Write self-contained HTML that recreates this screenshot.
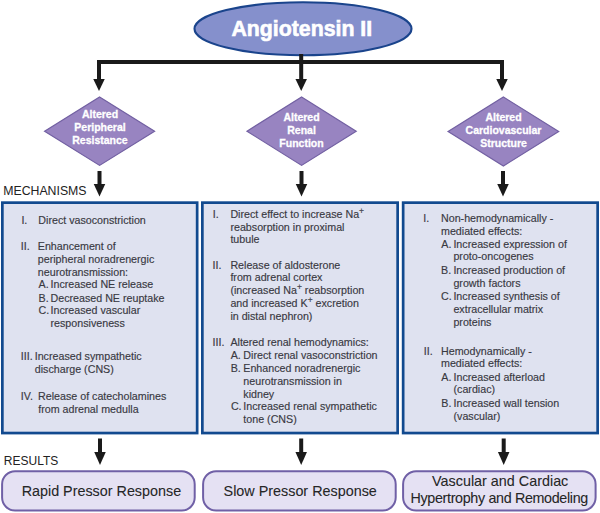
<!DOCTYPE html>
<html><head><meta charset="utf-8"><style>
html,body{margin:0;padding:0;background:#fff;width:600px;height:513px;overflow:hidden}
svg{display:block;font-family:"Liberation Sans",sans-serif}
</style></head><body>
<svg width="600" height="513" viewBox="0 0 600 513">
<ellipse cx="303" cy="28.8" rx="108.5" ry="26.5" fill="#8590cc" stroke="#1a448c" stroke-width="2.1"/>
<text x="301.8" y="36" font-size="21.3" font-weight="bold" fill="#ffffff" stroke="#ffffff" stroke-width="0.6" text-anchor="middle">Angiotensin II</text>
<rect x="97" y="60" width="407" height="4" fill="#1a1a1a"/>
<rect x="97.0" y="60" width="4" height="19.5" fill="#1a1a1a"/><path d="M93.25 79 L104.75 79 L99 91 Z" fill="#1a1a1a"/>
<rect x="299.2" y="54" width="4" height="25.5" fill="#1a1a1a"/><path d="M295.45 79 L306.95 79 L301.2 91 Z" fill="#1a1a1a"/>
<rect x="500.0" y="60" width="4" height="19.5" fill="#1a1a1a"/><path d="M496.25 79 L507.75 79 L502 91 Z" fill="#1a1a1a"/>
<rect x="97.5" y="171" width="4" height="13.5" fill="#1a1a1a"/><path d="M93.75 184 L105.25 184 L99.5 196.5 Z" fill="#1a1a1a"/>
<rect x="299.5" y="171" width="4" height="13.5" fill="#1a1a1a"/><path d="M295.75 184 L307.25 184 L301.5 196.5 Z" fill="#1a1a1a"/>
<rect x="501.0" y="171" width="4" height="13.5" fill="#1a1a1a"/><path d="M497.25 184 L508.75 184 L503 196.5 Z" fill="#1a1a1a"/>
<rect x="98.0" y="438.5" width="4" height="14.0" fill="#1a1a1a"/><path d="M94.25 452 L105.75 452 L100 465 Z" fill="#1a1a1a"/>
<rect x="299.2" y="438.5" width="4" height="14.0" fill="#1a1a1a"/><path d="M295.45 452 L306.95 452 L301.2 465 Z" fill="#1a1a1a"/>
<rect x="501.7" y="438.5" width="4" height="14.0" fill="#1a1a1a"/><path d="M497.95 452 L509.45 452 L503.7 465 Z" fill="#1a1a1a"/>
<path d="M99.6 96.99999999999999 L154.6 131.2 L99.6 165.39999999999998 L44.599999999999994 131.2 Z" fill="#9884c1" stroke="#7260a2" stroke-width="1.2"/>
<path d="M301.6 96.99999999999999 L356.20000000000005 131.2 L301.6 165.39999999999998 L247.00000000000003 131.2 Z" fill="#9884c1" stroke="#7260a2" stroke-width="1.2"/>
<path d="M503.4 97.0 L558.6999999999999 131.5 L503.4 166.0 L448.09999999999997 131.5 Z" fill="#9884c1" stroke="#7260a2" stroke-width="1.2"/>
<text x="100" y="118.3" font-size="10.5" font-weight="bold" fill="#ffffff" stroke="#ffffff" stroke-width="0.3" text-anchor="middle">Altered</text>
<text x="100" y="131.1" font-size="10.5" font-weight="bold" fill="#ffffff" stroke="#ffffff" stroke-width="0.3" text-anchor="middle">Peripheral</text>
<text x="100" y="143.9" font-size="10.5" font-weight="bold" fill="#ffffff" stroke="#ffffff" stroke-width="0.3" text-anchor="middle">Resistance</text>
<text x="301.5" y="121.0" font-size="10.5" font-weight="bold" fill="#ffffff" stroke="#ffffff" stroke-width="0.3" text-anchor="middle">Altered</text>
<text x="301.5" y="133.8" font-size="10.5" font-weight="bold" fill="#ffffff" stroke="#ffffff" stroke-width="0.3" text-anchor="middle">Renal</text>
<text x="301.5" y="146.6" font-size="10.5" font-weight="bold" fill="#ffffff" stroke="#ffffff" stroke-width="0.3" text-anchor="middle">Function</text>
<text x="503.5" y="121.0" font-size="10.5" font-weight="bold" fill="#ffffff" stroke="#ffffff" stroke-width="0.3" text-anchor="middle">Altered</text>
<text x="503.5" y="133.8" font-size="10.5" font-weight="bold" fill="#ffffff" stroke="#ffffff" stroke-width="0.3" text-anchor="middle">Cardiovascular</text>
<text x="503.5" y="146.6" font-size="10.5" font-weight="bold" fill="#ffffff" stroke="#ffffff" stroke-width="0.3" text-anchor="middle">Structure</text>
<text x="3.2" y="195" font-size="12.3" font-weight="normal" fill="#222" text-anchor="start">MECHANISMS</text>
<text x="3.8" y="464.5" font-size="12.0" font-weight="normal" fill="#222" text-anchor="start">RESULTS</text>
<rect x="2.35" y="202.65" width="194.8" height="230.39999999999998" fill="#dfe2f0" stroke="#124a8f" stroke-width="2.7"/>
<rect x="202.35" y="202.65" width="195.3" height="230.39999999999998" fill="#dfe2f0" stroke="#124a8f" stroke-width="2.7"/>
<rect x="403.15000000000003" y="202.65" width="194.5" height="230.39999999999998" fill="#dfe2f0" stroke="#124a8f" stroke-width="2.7"/>
<text x="21.4" y="224" font-size="10.7" font-weight="normal" fill="#393942" stroke="#393942" stroke-width="0.15" text-anchor="start">I.</text>
<text x="38.3" y="224" font-size="10.7" font-weight="normal" fill="#393942" stroke="#393942" stroke-width="0.15" text-anchor="start">Direct vasoconstriction</text>
<text x="20.8" y="250" font-size="10.7" font-weight="normal" fill="#393942" stroke="#393942" stroke-width="0.15" text-anchor="start">II.</text>
<text x="37.8" y="250" font-size="10.7" font-weight="normal" fill="#393942" stroke="#393942" stroke-width="0.15" text-anchor="start">Enhancement of</text>
<text x="37.8" y="262.5" font-size="10.7" font-weight="normal" fill="#393942" stroke="#393942" stroke-width="0.15" text-anchor="start">peripheral noradrenergic</text>
<text x="37.8" y="275.5" font-size="10.7" font-weight="normal" fill="#393942" stroke="#393942" stroke-width="0.15" text-anchor="start">neurotransmission:</text>
<text x="38.5" y="288" font-size="10.7" font-weight="normal" fill="#393942" stroke="#393942" stroke-width="0.15" text-anchor="start">A.</text>
<text x="50.5" y="288" font-size="10.7" font-weight="normal" fill="#393942" stroke="#393942" stroke-width="0.15" text-anchor="start">Increased NE release</text>
<text x="38.5" y="301.5" font-size="10.7" font-weight="normal" fill="#393942" stroke="#393942" stroke-width="0.15" text-anchor="start">B.</text>
<text x="50.5" y="301.5" font-size="10.7" font-weight="normal" fill="#393942" stroke="#393942" stroke-width="0.15" text-anchor="start">Decreased NE reuptake</text>
<text x="38.5" y="314" font-size="10.7" font-weight="normal" fill="#393942" stroke="#393942" stroke-width="0.15" text-anchor="start">C.</text>
<text x="50.5" y="314" font-size="10.7" font-weight="normal" fill="#393942" stroke="#393942" stroke-width="0.15" text-anchor="start">Increased vascular</text>
<text x="50.5" y="326.5" font-size="10.7" font-weight="normal" fill="#393942" stroke="#393942" stroke-width="0.15" text-anchor="start">responsiveness</text>
<text x="20.8" y="360" font-size="10.7" font-weight="normal" fill="#393942" stroke="#393942" stroke-width="0.15" text-anchor="start">III.</text>
<text x="34.7" y="360" font-size="10.7" font-weight="normal" fill="#393942" stroke="#393942" stroke-width="0.15" text-anchor="start">Increased sympathetic</text>
<text x="34.8" y="373" font-size="10.7" font-weight="normal" fill="#393942" stroke="#393942" stroke-width="0.15" text-anchor="start">discharge (CNS)</text>
<text x="20.8" y="400" font-size="10.7" font-weight="normal" fill="#393942" stroke="#393942" stroke-width="0.15" text-anchor="start">IV.</text>
<text x="38" y="400" font-size="10.7" font-weight="normal" fill="#393942" stroke="#393942" stroke-width="0.15" text-anchor="start">Release of catecholamines</text>
<text x="38.2" y="413" font-size="10.7" font-weight="normal" fill="#393942" stroke="#393942" stroke-width="0.15" text-anchor="start">from adrenal medulla</text>
<text x="212.7" y="218" font-size="10.7" font-weight="normal" fill="#393942" stroke="#393942" stroke-width="0.15" text-anchor="start">I.</text>
<text x="230.4" y="218" font-size="10.7" font-weight="normal" fill="#393942" stroke="#393942" stroke-width="0.15" text-anchor="start">Direct effect to increase Na<tspan dy="-4.2" font-size="8.5">+</tspan><tspan dy="4.2"></tspan></text>
<text x="230.4" y="231" font-size="10.7" font-weight="normal" fill="#393942" stroke="#393942" stroke-width="0.15" text-anchor="start">reabsorption in proximal</text>
<text x="230.4" y="243" font-size="10.7" font-weight="normal" fill="#393942" stroke="#393942" stroke-width="0.15" text-anchor="start">tubule</text>
<text x="212.5" y="269" font-size="10.7" font-weight="normal" fill="#393942" stroke="#393942" stroke-width="0.15" text-anchor="start">II.</text>
<text x="230.4" y="269" font-size="10.7" font-weight="normal" fill="#393942" stroke="#393942" stroke-width="0.15" text-anchor="start">Release of aldosterone</text>
<text x="230.4" y="281" font-size="10.7" font-weight="normal" fill="#393942" stroke="#393942" stroke-width="0.15" text-anchor="start">from adrenal cortex</text>
<text x="230.4" y="294" font-size="10.7" font-weight="normal" fill="#393942" stroke="#393942" stroke-width="0.15" text-anchor="start">(increased Na<tspan dy="-4.2" font-size="8.5">+</tspan><tspan dy="4.2"> reabsorption</tspan></text>
<text x="230.4" y="307" font-size="10.7" font-weight="normal" fill="#393942" stroke="#393942" stroke-width="0.15" text-anchor="start">and increased K<tspan dy="-4.2" font-size="8.5">+</tspan><tspan dy="4.2"> excretion</tspan></text>
<text x="230.4" y="320" font-size="10.7" font-weight="normal" fill="#393942" stroke="#393942" stroke-width="0.15" text-anchor="start">in distal nephron)</text>
<text x="212.5" y="346" font-size="10.7" font-weight="normal" fill="#393942" stroke="#393942" stroke-width="0.15" text-anchor="start">III.</text>
<text x="230.4" y="346" font-size="10.7" font-weight="normal" fill="#393942" stroke="#393942" stroke-width="0.15" text-anchor="start">Altered renal hemodynamics:</text>
<text x="230.7" y="359" font-size="10.7" font-weight="normal" fill="#393942" stroke="#393942" stroke-width="0.15" text-anchor="start">A.</text>
<text x="243.3" y="359" font-size="10.7" font-weight="normal" fill="#393942" stroke="#393942" stroke-width="0.15" text-anchor="start">Direct renal vasoconstriction</text>
<text x="230.7" y="372.4" font-size="10.7" font-weight="normal" fill="#393942" stroke="#393942" stroke-width="0.15" text-anchor="start">B.</text>
<text x="243.3" y="372.4" font-size="10.7" font-weight="normal" fill="#393942" stroke="#393942" stroke-width="0.15" text-anchor="start">Enhanced noradrenergic</text>
<text x="243.3" y="385" font-size="10.7" font-weight="normal" fill="#393942" stroke="#393942" stroke-width="0.15" text-anchor="start">neurotransmission in</text>
<text x="243.3" y="397.6" font-size="10.7" font-weight="normal" fill="#393942" stroke="#393942" stroke-width="0.15" text-anchor="start">kidney</text>
<text x="230.9" y="410.4" font-size="10.7" font-weight="normal" fill="#393942" stroke="#393942" stroke-width="0.15" text-anchor="start">C.</text>
<text x="243.3" y="410.4" font-size="10.7" font-weight="normal" fill="#393942" stroke="#393942" stroke-width="0.15" text-anchor="start">Increased renal sympathetic</text>
<text x="243.3" y="422.6" font-size="10.7" font-weight="normal" fill="#393942" stroke="#393942" stroke-width="0.15" text-anchor="start">tone (CNS)</text>
<text x="423.3" y="222" font-size="10.7" font-weight="normal" fill="#393942" stroke="#393942" stroke-width="0.15" text-anchor="start">I.</text>
<text x="441" y="222" font-size="10.7" font-weight="normal" fill="#393942" stroke="#393942" stroke-width="0.15" text-anchor="start">Non-hemodynamically -</text>
<text x="441" y="234.6" font-size="10.7" font-weight="normal" fill="#393942" stroke="#393942" stroke-width="0.15" text-anchor="start">mediated effects:</text>
<text x="441.3" y="247.6" font-size="10.7" font-weight="normal" fill="#393942" stroke="#393942" stroke-width="0.15" text-anchor="start">A.</text>
<text x="453.4" y="247.6" font-size="10.7" font-weight="normal" fill="#393942" stroke="#393942" stroke-width="0.15" text-anchor="start">Increased expression of</text>
<text x="453.4" y="260.4" font-size="10.7" font-weight="normal" fill="#393942" stroke="#393942" stroke-width="0.15" text-anchor="start">proto-oncogenes</text>
<text x="441" y="274" font-size="10.7" font-weight="normal" fill="#393942" stroke="#393942" stroke-width="0.15" text-anchor="start">B.</text>
<text x="453.4" y="274" font-size="10.7" font-weight="normal" fill="#393942" stroke="#393942" stroke-width="0.15" text-anchor="start">Increased production of</text>
<text x="453.4" y="287.4" font-size="10.7" font-weight="normal" fill="#393942" stroke="#393942" stroke-width="0.15" text-anchor="start">growth factors</text>
<text x="441" y="300.4" font-size="10.7" font-weight="normal" fill="#393942" stroke="#393942" stroke-width="0.15" text-anchor="start">C.</text>
<text x="453.4" y="300.4" font-size="10.7" font-weight="normal" fill="#393942" stroke="#393942" stroke-width="0.15" text-anchor="start">Increased synthesis of</text>
<text x="453.4" y="313.4" font-size="10.7" font-weight="normal" fill="#393942" stroke="#393942" stroke-width="0.15" text-anchor="start">extracellular matrix</text>
<text x="453.4" y="326.4" font-size="10.7" font-weight="normal" fill="#393942" stroke="#393942" stroke-width="0.15" text-anchor="start">proteins</text>
<text x="423.8" y="355" font-size="10.7" font-weight="normal" fill="#393942" stroke="#393942" stroke-width="0.15" text-anchor="start">II.</text>
<text x="441" y="355" font-size="10.7" font-weight="normal" fill="#393942" stroke="#393942" stroke-width="0.15" text-anchor="start">Hemodynamically -</text>
<text x="441" y="367" font-size="10.7" font-weight="normal" fill="#393942" stroke="#393942" stroke-width="0.15" text-anchor="start">mediated effects:</text>
<text x="441.3" y="380.6" font-size="10.7" font-weight="normal" fill="#393942" stroke="#393942" stroke-width="0.15" text-anchor="start">A.</text>
<text x="453.5" y="380.6" font-size="10.7" font-weight="normal" fill="#393942" stroke="#393942" stroke-width="0.15" text-anchor="start">Increased afterload</text>
<text x="453.5" y="393" font-size="10.7" font-weight="normal" fill="#393942" stroke="#393942" stroke-width="0.15" text-anchor="start">(cardiac)</text>
<text x="441.3" y="407" font-size="10.7" font-weight="normal" fill="#393942" stroke="#393942" stroke-width="0.15" text-anchor="start">B.</text>
<text x="453.5" y="407" font-size="10.7" font-weight="normal" fill="#393942" stroke="#393942" stroke-width="0.15" text-anchor="start">Increased wall tension</text>
<text x="453.5" y="420" font-size="10.7" font-weight="normal" fill="#393942" stroke="#393942" stroke-width="0.15" text-anchor="start">(vascular)</text>
<rect x="2.1" y="471.2" width="192.6" height="39.30000000000001" rx="13" ry="13" fill="#e5e1f3" stroke="#7060a6" stroke-width="2.0"/>
<rect x="203.1" y="471.2" width="192.6" height="39.30000000000001" rx="13" ry="13" fill="#e5e1f3" stroke="#7060a6" stroke-width="2.0"/>
<rect x="403.1" y="471.2" width="192.5" height="39.30000000000001" rx="13" ry="13" fill="#e5e1f3" stroke="#7060a6" stroke-width="2.0"/>
<text x="101.4" y="496.3" font-size="14.35" font-weight="normal" fill="#262626" stroke="#262626" stroke-width="0.08" text-anchor="middle">Rapid Pressor Response</text>
<text x="300.2" y="496" font-size="14.37" font-weight="normal" fill="#262626" stroke="#262626" stroke-width="0.08" text-anchor="middle">Slow Pressor Response</text>
<text x="500.2" y="486" font-size="14.36" font-weight="normal" fill="#262626" stroke="#262626" stroke-width="0.08" text-anchor="middle">Vascular and Cardiac</text>
<text x="499.2" y="503.3" font-size="14.3" letter-spacing="-0.33" fill="#262626" stroke="#262626" stroke-width="0.08" text-anchor="middle">Hypertrophy and Remodeling</text>
</svg></body></html>
